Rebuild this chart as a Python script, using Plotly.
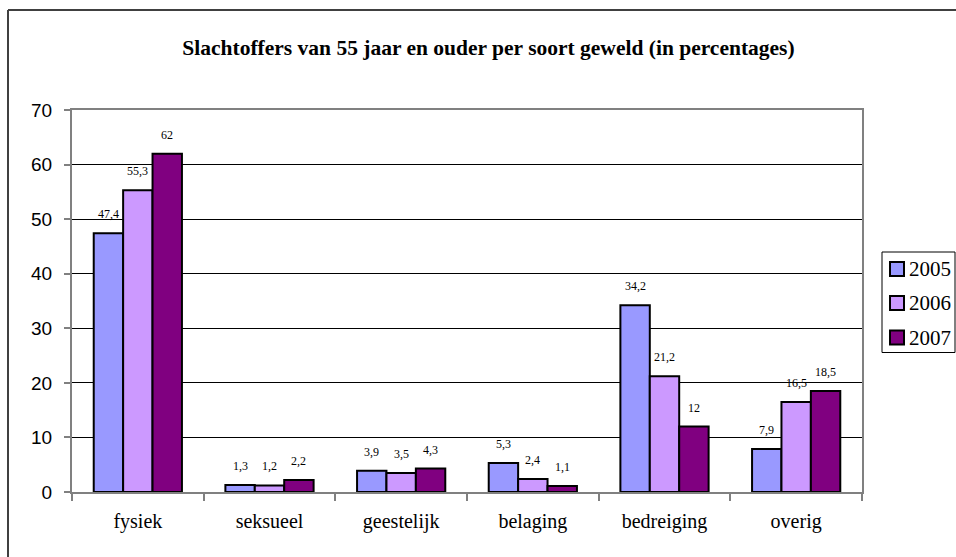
import plotly.graph_objects as go

categories = ["fysiek", "seksueel", "geestelijk", "belaging", "bedreiging", "overig"]
years = ["2005", "2006", "2007"]
values_2005 = [47.4, 1.3, 3.9, 5.3, 34.2, 7.9]
values_2006 = [55.3, 1.2, 3.5, 2.4, 21.2, 16.5]
values_2007 = [62, 2.2, 4.3, 1.1, 12, 18.5]
colors = ["#9999FF", "#CC99FF", "#800080"]
title_text = "Slachtoffers van 55 jaar en ouder per soort geweld (in percentages)"

series = [values_2005, values_2006, values_2007]
SERIF = "Liberation Serif, Times New Roman, serif"
SANS = "Liberation Sans, Arial, sans-serif"

fig = go.Figure()
for yr, vals, col in zip(years, series, colors):
    fig.add_trace(go.Bar(
        x=categories, y=vals, name=yr,
        marker=dict(color=col, line=dict(color="black", width=2)),
        hoverinfo="skip",
    ))

# data labels
bar_px = 29.3
for i, vals in enumerate(series):
    for cat, v in zip(categories, vals):
        fig.add_annotation(
            x=cat, y=v, xref="x", yref="y",
            text=f"{v:g}".replace(".", ","),
            showarrow=False, xshift=(i - 1) * bar_px, yshift=19,
            yanchor="middle",
            font=dict(family=SERIF, size=12, color="black"),
        )

W, H = 956, 557
L, R, T, B = 72, 862, 110, 492
pw, ph = R - L, B - T

def px(x):
    return (x - L) / pw

def py(y):
    return (B - y) / ph

fig.update_layout(
    width=W, height=H,
    margin=dict(l=L, r=W - R, t=T, b=H - B),
    paper_bgcolor="white", plot_bgcolor="white",
    barmode="group", bargap=0.33, bargroupgap=0,
    title=dict(text="<b>" + title_text + "</b>", x=px(488.5), xref="paper",
               xanchor="center", y=1 - 47 / H, yanchor="middle",
               font=dict(family=SERIF, size=21.5, color="black")),
    showlegend=False,
    xaxis=dict(showline=True, linecolor="#808080", linewidth=2, mirror=True,
               ticks="outside", tickson="boundaries", ticklen=7, tickcolor="#808080",
               tickwidth=2, showgrid=False, ticklabelstandoff=10,
               tickfont=dict(family=SERIF, size=20, color="black")),
    yaxis=dict(range=[0, 70], dtick=10, showline=True, linecolor="#808080", linewidth=2,
               mirror=True, ticks="outside", ticklen=6, tickcolor="#808080", tickwidth=2,
               showgrid=True, gridcolor="black", gridwidth=1, zeroline=False,
               ticklabelstandoff=8,
               tickfont=dict(family=SANS, size=19, color="black")),
)

# custom legend box (matches the spreadsheet-style legend)
fig.add_shape(type="rect", xref="paper", yref="paper",
              x0=px(882), x1=px(955), y0=py(352.5), y1=py(252),
              line=dict(color="black", width=1), fillcolor="white", layer="above")
item_y = [269, 303, 337.5]
for yr, col, yc in zip(years, colors, item_y):
    fig.add_shape(type="rect", xref="paper", yref="paper",
                  x0=px(890), x1=px(904), y0=py(yc + 7), y1=py(yc - 7),
                  line=dict(color="black", width=2), fillcolor=col, layer="above")
    fig.add_annotation(x=px(907), y=py(yc), xref="paper", yref="paper",
                       text=yr, showarrow=False, xanchor="left", yanchor="middle",
                       font=dict(family=SERIF, size=21, color="black"))

# outer chart frame (only left and top edges visible in the picture)
fx0 = px(8)
fy1 = py(10)
fig.add_shape(type="line", xref="paper", yref="paper", x0=fx0, x1=fx0, y0=-1, y1=fy1,
              line=dict(color="#404040", width=2))
fig.add_shape(type="line", xref="paper", yref="paper", x0=fx0, x1=2, y0=fy1, y1=fy1,
              line=dict(color="#404040", width=2))

fig.write_html("out.html", config={"displayModeBar": False},
               post_script="document.body.style.margin='0';")
